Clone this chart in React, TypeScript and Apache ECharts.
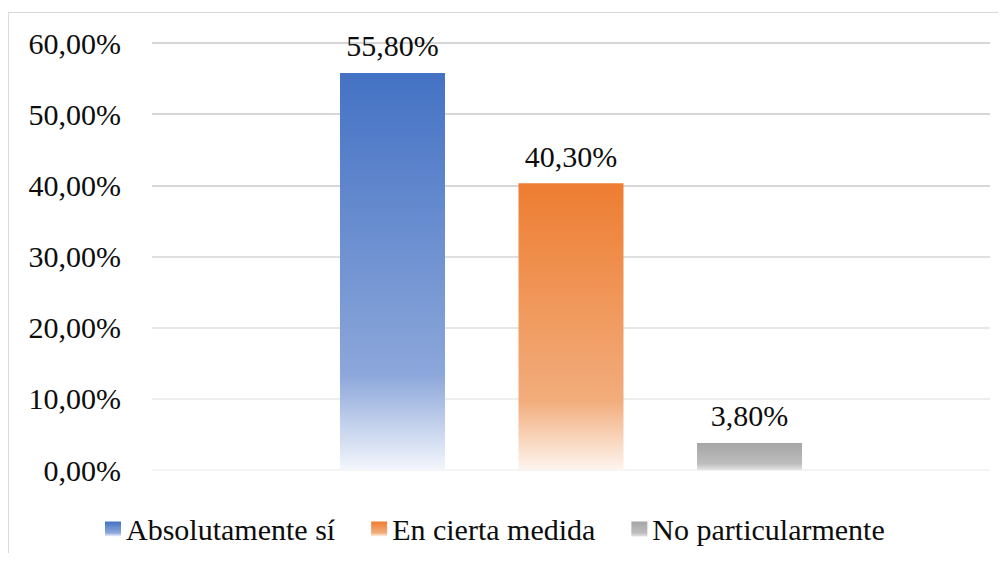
import React, { useEffect, useRef } from "react";
import * as echarts from "echarts";

const categories = ["Respuesta"];
const seriesNames = ["Absolutamente sí", "En cierta medida", "No particularmente"];
const seriesValues = [55.8, 40.3, 3.8];
const topColors = ["#4472C4", "#ED7D31", "#A5A5A5"];
const midColors = ["#8CA7DA", "#F2AD7C", "#BDBDBD"];
const bottomColors = ["#F3F6FC", "#FDF5EF", "#E4E4E4"];
const gridLineColors = ["#f0f0f0", "#e8e8e8", "#dedede", "#d6d6d6", "#cacaca", "#c8c8c8", "#c8c8c8"];

const FONT = "Liberation Serif";
const TEXT_COLOR = "#0d0d0d";
const fmt = (v: number) => v.toFixed(2).replace(".", ",") + "%";

export default function App() {
  const ref = useRef<HTMLDivElement>(null);
  useEffect(() => {
    if (!ref.current) return;
    const chart = echarts.init(ref.current, undefined, { renderer: "svg" });
    const series = seriesNames.map((name, i) => ({
      name,
      type: "bar" as const,
      data: [seriesValues[i]],
      barWidth: 105,
      barGap: "70%",
      itemStyle: {
        color: new echarts.graphic.LinearGradient(0, 0, 0, 1, [
          { offset: 0, color: topColors[i] },
          { offset: 0.76, color: midColors[i] },
          { offset: 1, color: bottomColors[i] },
        ]),
      },
      label: {
        show: true,
        position: "top" as const,
        distance: 12,
        color: TEXT_COLOR,
        fontFamily: FONT,
        fontSize: 30,
        formatter: (p: any) => fmt(p.value),
      },
    }));
    chart.setOption({
      animation: false,
      grid: { left: 152, right: 16, top: 43, bottom: 91 },
      legend: {
        left: 100,
        top: 509,
        icon: "rect",
        itemWidth: 16,
        itemHeight: 15,
        itemGap: 36,
        textStyle: { fontFamily: FONT, fontSize: 30, color: TEXT_COLOR },
      },
      xAxis: {
        type: "category",
        data: categories,
        axisLine: { show: false },
        axisTick: { show: false },
        axisLabel: { show: false },
      },
      yAxis: {
        type: "value",
        min: 0,
        max: 60,
        interval: 10,
        axisLine: { show: false },
        axisTick: { show: false },
        axisLabel: {
          formatter: (v: number) => fmt(v),
          fontFamily: FONT,
          fontSize: 30,
          color: TEXT_COLOR,
          margin: 31,
        },
        splitLine: { lineStyle: { color: gridLineColors, width: 1.5 } },
      },
      series,
    });
    return () => chart.dispose();
  }, []);
  return (
    <div
      className="chart-root"
      style={{
        position: "relative",
        width: 1006,
        height: 561,
        margin: -8,
        overflow: "hidden",
        background: "#fff",
      }}
    >
      <div
        style={{
          position: "absolute",
          left: 8,
          top: 12,
          width: 1100,
          height: 700,
          border: "1.5px solid #d9d9d9",
          boxSizing: "border-box",
        }}
      />
      <div ref={ref} style={{ position: "absolute", left: 0, top: 0, width: 1006, height: 561 }} />
    </div>
  );
}
